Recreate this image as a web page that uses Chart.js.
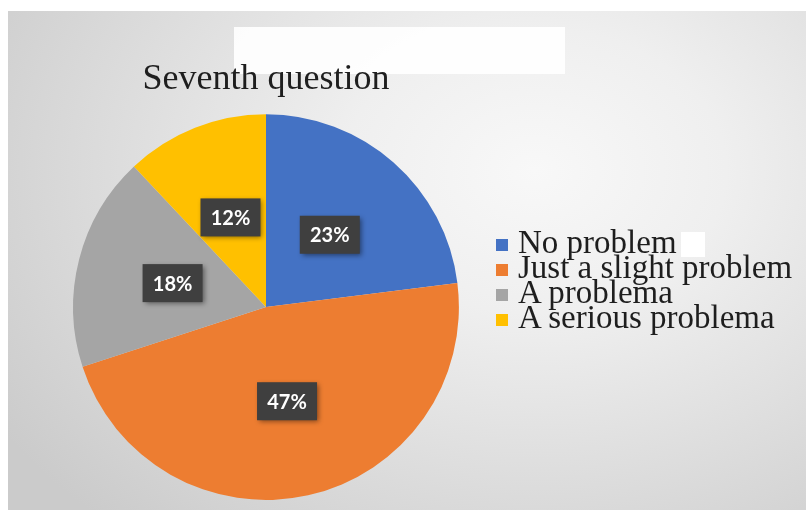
<!DOCTYPE html>
<html>
<head>
<meta charset="utf-8">
<title>Seventh question</title>
<script src="https://cdn.jsdelivr.net/npm/chart.js@4.4.0/dist/chart.umd.min.js"></script>
<style>
    body { margin: 0; background: #fff; width: 806px; height: 510px; overflow: hidden; position: relative; }
    #sfondo {
        position: absolute; left: 8px; top: 11px; width: 798px; height: 499px;
        background: radial-gradient(ellipse 80% 95% at 66% 32%, #f8f8f8 0%, #efefef 30%, #dddddd 65%, #cbcbcb 100%);
    }
    /* ritaglio bianco dietro il titolo */
    #macchia-titolo {
        position: absolute; left: 234px; top: 27px; width: 331px; height: 47px;
        background: rgba(255,255,255,0.9);
    }
    #macchia-legenda {
        position: absolute; left: 681px; top: 232px; width: 24px; height: 25px;
        background: rgba(255,255,255,0.95);
    }
    #grafico { position: absolute; left: 0; top: 0; }
    #legenda {
        position: absolute; left: 496px; top: 230px; margin: 0; padding: 0; list-style: none;
        font-family: 'Liberation Serif', 'Times New Roman', serif; font-size: 33px; color: #1e1e1e;
    }
    #legenda li { height: 25px; line-height: 25px; white-space: nowrap; }
    #legenda .quadratino {
        display: inline-block; width: 12px; height: 12px; margin-right: 10px; vertical-align: 2px;
    }
</style>
</head>
<body>
<div id="sfondo"></div>
<div id="macchia-titolo"></div>
<canvas id="grafico" width="806" height="510"></canvas>
<div id="macchia-legenda"></div>
<ul id="legenda"></ul>

<script>
// dati della settima domanda
var titolo = 'Seventh question';
var risposte = ['No problem', 'Just a slight problem', 'A problema', 'A serious problema'];
var percentuali = [23, 47, 18, 12];
var colori = ['#4472C4', '#ED7D31', '#A5A5A5', '#FFC000'];

// etichette scure con la percentuale al centro di ogni fetta
var etichettePercentuali = {
    id: 'etichettePercentuali',
    afterDatasetsDraw: function(chart){
        var ctx = chart.ctx;
        var archi = chart.getDatasetMeta(0).data;
        var totale = percentuali.reduce(function(a, b){ return a + b; }, 0);
        ctx.save();
        ctx.font = 'bold 20px Lato';
        ctx.textAlign = 'center';
        ctx.textBaseline = 'middle';
        archi.forEach(function(arco, i){
            var pos = arco.tooltipPosition(true);
            var testo = Math.round(percentuali[i] / totale * 100) + '%';
            ctx.shadowColor = 'rgba(0,0,0,0.45)';
            ctx.shadowBlur = 5;
            ctx.shadowOffsetX = 2;
            ctx.shadowOffsetY = 2;
            ctx.fillStyle = '#3f3f3f';
            ctx.fillRect(pos.x - 30, pos.y - 19, 60, 38);
            ctx.shadowColor = 'transparent';
            ctx.fillStyle = '#ffffff';
            ctx.fillText(testo, pos.x, pos.y + 1);
        });
        ctx.restore();
    }
};

var ctx = document.getElementById('grafico');
var chart = new Chart(ctx, {
    type: 'pie',
    data: {
        labels: risposte,
        datasets: [{
            data: percentuali,
            backgroundColor: colori,
            borderWidth: 0
        }]
    },
    options: {
        responsive: false,
        animation: false,
        layout: {
            padding: { left: 73, right: 347, top: 0, bottom: 10 }
        },
        plugins: {
            legend: { display: false },
            tooltip: { enabled: false },
            title: {
                display: true,
                text: titolo,
                fullSize: false,
                color: '#1e1e1e',
                font: { family: 'Liberation Serif', size: 36, weight: 'normal' },
                padding: { top: 58, bottom: 13 }
            }
        }
    },
    plugins: [etichettePercentuali]
});

// legenda in html a destra della torta
function stampaLegenda(){
    var lista = document.getElementById('legenda');
    for (var i = 0; i < risposte.length; i++) {
        var voce = document.createElement('li');
        var quadratino = document.createElement('span');
        quadratino.className = 'quadratino';
        quadratino.style.background = colori[i];
        voce.appendChild(quadratino);
        voce.appendChild(document.createTextNode(risposte[i]));
        lista.appendChild(voce);
    }
};
stampaLegenda();
</script>
</body>
</html>
